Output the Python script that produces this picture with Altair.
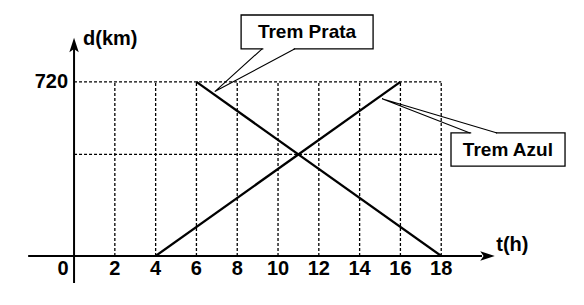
import altair as alt
import pandas as pd

# ---- data ----
tick_t = [2, 4, 6, 8, 10, 12, 14, 16, 18]
tick_labels = ["2", "4", "6", "8", "10", "12", "14", "16", "18"]
grid_d = [420, 720]
d_label_vals = [720]
d_label_text = ["720"]

azul_t = [4, 16]
azul_d = [0, 720]
prata_t = [6, 18]
prata_d = [720, 0]

# callout annotations (data units)
callout_names = ["Trem Prata", "Trem Azul"]
box_t0 = [8.19, 18.48]
box_t1 = [14.66, 24.07]
box_d0 = [857, 372]
box_d1 = [997, 509]
tail_base1_t = [9.22, 19.41]
tail_base2_t = [10.83, 20.74]
tail_tip_t = [6.9, 15.1]
tail_tip_d = [680, 650]
label_t = [11.42, 21.27]
label_d = [927, 440]

T_MIN, T_MAX = -3.63, 25.0
D_MIN, D_MAX = -203, 1059

FONT = "Liberation Sans"
xs = alt.Scale(domain=[T_MIN, T_MAX], nice=False, zero=False)
ys = alt.Scale(domain=[D_MIN, D_MAX], nice=False, zero=False)


def X(f):
    return alt.X(f, type="quantitative", scale=xs, axis=None)


def Y(f):
    return alt.Y(f, type="quantitative", scale=ys, axis=None)


# grid
vgrid = pd.DataFrame({"t": tick_t, "d0": [0] * len(tick_t), "d1": [720] * len(tick_t)})
hgrid = pd.DataFrame({"d": grid_d, "t0": [0] * len(grid_d), "t1": [18] * len(grid_d)})
g1 = alt.Chart(vgrid).mark_rule(color="black", strokeWidth=1.3, strokeDash=[3, 2]).encode(
    x=X("t"), y=Y("d0"), y2="d1")
g2 = alt.Chart(hgrid).mark_rule(color="black", strokeWidth=1.3, strokeDash=[3, 2]).encode(
    y=Y("d"), x=X("t0"), x2="t1")

# trains
trains = pd.DataFrame({
    "train": ["Azul"] * 2 + ["Prata"] * 2,
    "t": azul_t + prata_t,
    "d": azul_d + prata_d,
})
lines = alt.Chart(trains).mark_line(color="black", strokeWidth=2.3).encode(
    x=X("t"), y=Y("d"), detail="train")

# axes
xaxis = pd.DataFrame({"t0": [-2.25], "t1": [20.0], "d": [0]})
yaxis = pd.DataFrame({"d0": [-112], "d1": [862], "t": [0]})
ax1 = alt.Chart(xaxis).mark_rule(color="black", strokeWidth=2).encode(x=X("t0"), x2="t1", y=Y("d"))
ax2 = alt.Chart(yaxis).mark_rule(color="black", strokeWidth=2).encode(y=Y("d0"), y2="d1", x=X("t"))

arrow_path = "M0,-1L0.65,1L0,0.55L-0.65,1Z"
arrows = pd.DataFrame({"t": [20.27, 0], "d": [0, 873], "ang": [90, 0]})
arr = alt.Chart(arrows).mark_point(shape=arrow_path, filled=True, color="black", size=210, opacity=1).encode(
    x=X("t"), y=Y("d"), angle=alt.Angle("ang:Q", scale=None))

# tick labels
ticks = pd.DataFrame({"t": tick_t, "d": [0] * len(tick_t), "label": tick_labels})
tl = alt.Chart(ticks).mark_text(font=FONT, fontSize=20, fontWeight="bold", dy=13, baseline="middle").encode(
    x=X("t"), y=Y("d"), text="label")
zero = pd.DataFrame({"t": [0], "d": [0], "label": ["0"]})
zl = alt.Chart(zero).mark_text(font=FONT, fontSize=20, fontWeight="bold", dy=13, dx=-11, baseline="middle").encode(
    x=X("t"), y=Y("d"), text="label")
ylab = pd.DataFrame({"t": [0] * len(d_label_vals), "d": d_label_vals, "label": d_label_text})
yl = alt.Chart(ylab).mark_text(font=FONT, fontSize=20, fontWeight="bold", dx=-6, align="right", baseline="middle").encode(
    x=X("t"), y=Y("d"), text="label")

titles = pd.DataFrame({"t": [0, 20.6], "d": [898, 0], "label": ["d(km)", "t(h)"]})
tt1 = alt.Chart(titles.iloc[[0]]).mark_text(font=FONT, fontSize=20, fontWeight="bold", dx=9, align="left", baseline="middle").encode(
    x=X("t"), y=Y("d"), text="label")
tt2 = alt.Chart(titles.iloc[[1]]).mark_text(font=FONT, fontSize=20, fontWeight="bold", dx=2, dy=-11, align="left", baseline="middle").encode(
    x=X("t"), y=Y("d"), text="label")

# callouts
boxes = pd.DataFrame({"name": callout_names, "t0": box_t0, "t1": box_t1, "d0": box_d0, "d1": box_d1,
                      "lt": label_t, "ld": label_d})
rects = alt.Chart(boxes).mark_rect(fill="white", stroke="black", strokeWidth=1.3).encode(
    x=X("t0"), x2="t1", y=Y("d0"), y2="d1")
gap_rows = []
for i, n in enumerate(callout_names):
    base_d = box_d0[i] if n == "Trem Prata" else box_d1[i]
    gap_rows.append({"name": n, "a": tail_base1_t[i] + 0.06, "b": tail_base2_t[i] - 0.06, "d": base_d})
gaps = alt.Chart(pd.DataFrame(gap_rows)).mark_rule(color="white", strokeWidth=2.5).encode(
    x=X("a"), x2="b", y=Y("d"))
tail_rows = []
for i, n in enumerate(callout_names):
    base_d = box_d0[i] if n == "Trem Prata" else box_d1[i]
    tail_rows += [
        {"name": n, "o": 0, "t": tail_base1_t[i], "d": base_d},
        {"name": n, "o": 1, "t": tail_tip_t[i], "d": tail_tip_d[i]},
        {"name": n, "o": 2, "t": tail_base2_t[i], "d": base_d},
    ]
tails = alt.Chart(pd.DataFrame(tail_rows)).mark_line(color="black", strokeWidth=1.1).encode(
    x=X("t"), y=Y("d"), detail="name", order="o:Q")
ctext = alt.Chart(boxes).mark_text(font=FONT, fontSize=19, fontWeight="bold", baseline="middle").encode(
    x=X("lt"), y=Y("ld"), text="name")

chart = alt.layer(g1, g2, lines, ax1, ax2, arr, tl, zl, yl, tt1, tt2, rects, gaps, tails, ctext).properties(
    width=584, height=305, autosize="none", padding=0, background="white"
).configure_view(stroke=None)

chart.save("out.html", embed_options={"renderer": "svg", "actions": False})
